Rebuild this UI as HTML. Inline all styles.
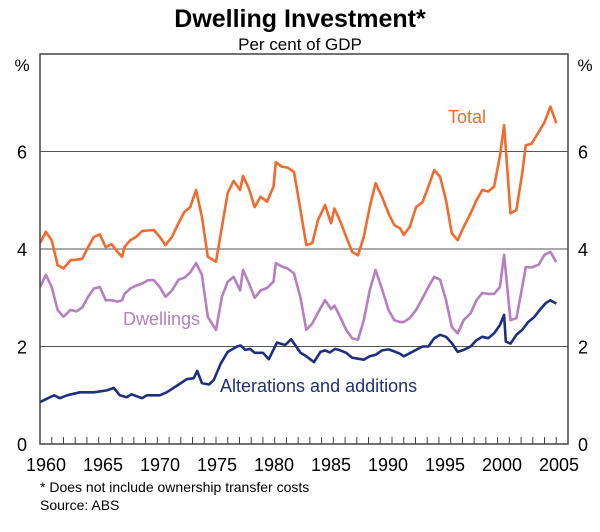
<!DOCTYPE html>
<html><head><meta charset="utf-8"><style>
body{margin:0;background:#fff;width:600px;height:527px;overflow:hidden;font-family:"Liberation Sans",Arial,sans-serif}
svg text{font-family:"Liberation Sans",Arial,sans-serif}
</style></head><body>
<svg id="chart" width="600" height="527" xmlns="http://www.w3.org/2000/svg">
<text x="300" y="27" text-anchor="middle" font-size="25" font-weight="bold">Dwelling Investment*</text>
<text x="300" y="50" text-anchor="middle" font-size="17">Per cent of GDP</text>
<text x="22" y="71" text-anchor="middle" font-size="17">%</text>
<text x="585" y="71" text-anchor="middle" font-size="17">%</text>
<g id="grid"></g>
<g id="series"></g>
<rect x="40" y="54" width="528" height="390" fill="none" stroke="#444" stroke-width="1.5"/>
<g id="xaxis"></g>
<g id="yaxis"></g>
<text x="448" y="123" font-size="18" fill="#f26a2c">Total</text>
<text x="123" y="325" font-size="18" fill="#b57fc0">Dwellings</text>
<text x="220" y="392" font-size="18" fill="#1e2f80">Alterations and additions</text>
<text x="40" y="492" font-size="14">* Does not include ownership transfer costs</text>
<text x="40" y="510" font-size="14">Source: ABS</text>
</svg>
<script>
const yTicks=[0,2,4,6];
const xTickLabels=[1960,1965,1970,1975,1980,1985,1990,1995,2000,2005];
const totalYears=[1960,1960.5,1961,1961.5,1962,1962.6,1963.1,1963.6,1964.1,1964.6,1965.1,1965.6,1966.1,1966.6,1967,1967.2,1967.7,1968.2,1968.7,1969.2,1969.7,1970.2,1970.7,1971.25,1971.8,1972.3,1972.8,1973.3,1973.8,1974.3,1975,1975.5,1976,1976.5,1977.05,1977.3,1977.8,1978.3,1978.8,1979.35,1979.9,1980.1,1980.6,1981.1,1981.65,1982.2,1982.7,1983.2,1983.7,1984.3,1984.8,1985.1,1985.6,1986.1,1986.6,1987.1,1987.6,1988.1,1988.6,1989.15,1989.7,1990.2,1990.7,1991,1991.5,1992.05,1992.6,1993.1,1993.6,1994.1,1994.6,1995.1,1995.6,1996.1,1996.7,1997.2,1997.7,1998.2,1998.7,1999.2,1999.55,2000.1,2000.6,2001.1,2001.4,2001.9,2002.5,2003,2003.5,2004];
const totalValues=[4.12,4.35,4.18,3.67,3.6,3.77,3.78,3.8,4.04,4.25,4.3,4.04,4.1,3.94,3.84,4.04,4.18,4.25,4.37,4.38,4.39,4.25,4.08,4.25,4.53,4.76,4.86,5.21,4.66,3.84,3.74,4.45,5.15,5.4,5.21,5.5,5.24,4.86,5.07,4.97,5.28,5.78,5.69,5.67,5.58,4.8,4.08,4.12,4.6,4.9,4.53,4.83,4.56,4.25,3.94,3.87,4.25,4.86,5.35,5.07,4.73,4.49,4.42,4.29,4.45,4.86,4.96,5.28,5.62,5.48,5.0,4.32,4.18,4.45,4.73,5.0,5.21,5.18,5.28,5.9,6.54,4.73,4.8,5.55,6.13,6.16,6.4,6.6,6.92,6.58];
const dwellValues=[3.22,3.47,3.22,2.75,2.61,2.75,2.72,2.8,3.02,3.19,3.22,2.95,2.95,2.92,2.95,3.08,3.19,3.25,3.29,3.36,3.36,3.22,3.02,3.15,3.37,3.41,3.52,3.71,3.47,2.61,2.34,3.02,3.33,3.43,3.15,3.57,3.3,3.0,3.15,3.2,3.33,3.71,3.64,3.6,3.5,3.0,2.34,2.47,2.7,2.95,2.77,2.84,2.6,2.34,2.17,2.14,2.54,3.15,3.57,3.18,2.75,2.54,2.5,2.5,2.58,2.75,2.99,3.22,3.43,3.37,2.95,2.4,2.27,2.54,2.68,2.95,3.1,3.08,3.08,3.22,3.88,2.54,2.58,3.22,3.63,3.62,3.68,3.88,3.94,3.73];
const altYears=[1960,1960.85,1961.2,1961.7,1962.3,1963.4,1964.6,1965.7,1966.3,1966.8,1967.4,1967.8,1968.7,1969.1,1970.2,1970.8,1971.7,1972.5,1973.1,1973.4,1973.8,1974.4,1974.8,1975.4,1976,1976.8,1977.1,1977.5,1977.9,1978.3,1979,1979.5,1980.2,1980.9,1981.4,1982.2,1982.7,1983.35,1983.9,1984.3,1984.7,1985.15,1985.6,1986.1,1986.6,1987.1,1987.6,1988.1,1988.6,1989.15,1989.7,1990.2,1990.7,1991,1991.5,1992.05,1992.6,1993.1,1993.6,1994.1,1994.6,1995.1,1995.6,1996.1,1996.7,1997.2,1997.7,1998.2,1998.7,1999.2,1999.55,1999.7,2000.1,2000.6,2001.1,2001.6,2002.1,2002.6,2003.1,2003.5,2004];
const altValues=[0.86,0.96,1.0,0.94,1.0,1.06,1.06,1.1,1.15,1.0,0.96,1.02,0.94,1.0,1.0,1.06,1.2,1.33,1.35,1.5,1.25,1.22,1.31,1.65,1.89,2.0,2.02,1.93,1.95,1.87,1.87,1.74,2.08,2.03,2.15,1.87,1.8,1.68,1.89,1.92,1.88,1.95,1.92,1.87,1.77,1.75,1.73,1.8,1.83,1.92,1.94,1.9,1.85,1.8,1.86,1.93,2.0,2.0,2.17,2.24,2.2,2.07,1.89,1.93,2.0,2.13,2.2,2.17,2.27,2.44,2.65,2.1,2.06,2.24,2.34,2.5,2.6,2.75,2.89,2.95,2.88];
const NS='http://www.w3.org/2000/svg';
const X0=40,X1=568,Y0=444,Y1=54;
function xs(y){return X0+(y-1960)/45*(X1-X0);}
function xl(y){return 46+(y-1960)*11.4;}
function ys(v){return Y0-v/8*(Y0-Y1);}
function mk(tag,attrs,parent){const e=document.createElementNS(NS,tag);for(const k in attrs)e.setAttribute(k,attrs[k]);parent.appendChild(e);return e;}
const grid=document.getElementById('grid'),yax=document.getElementById('yaxis'),xax=document.getElementById('xaxis'),ser=document.getElementById('series');
yTicks.forEach(v=>{
  if(v>0){const g=mk('line',{x1:X0,x2:X1,y1:ys(v),y2:ys(v),stroke:'#555','stroke-width':1},grid);
  
  }
  const l=mk('text',{x:22,y:ys(v)+7,'text-anchor':'middle','font-size':18},yax);l.textContent=v;
  
  
  const r=mk('text',{x:583,y:ys(v)+7,'text-anchor':'middle','font-size':18},yax);r.textContent=v;
  
  
});
for(let yr=1961;yr<2005;yr++){
  const t=mk('line',{x1:xs(yr),x2:xs(yr),y1:Y0,y2:Y0-7,stroke:'#444','stroke-width':1},xax);
  
  
}
xTickLabels.forEach(yr=>{
  const t=mk('text',{x:xl(yr),y:471,'text-anchor':'middle','font-size':18},xax);t.textContent=yr;
  
  
});
function line(years,vals,color,name){
  const d=years.map((y,i)=>(i?'L':'M')+xs(y).toFixed(1)+' '+ys(vals[i]).toFixed(1)).join(' ');
  const p=mk('path',{d:d,fill:'none',stroke:color,'stroke-width':2.6,'stroke-linejoin':'round'},ser);
  
  
}
line(totalYears,totalValues,'#f26a2c','total-line');
line(totalYears,dwellValues,'#b57fc0','dwellings-line');
line(altYears,altValues,'#1e2f80','alterations-line');
</script>
</body></html>
